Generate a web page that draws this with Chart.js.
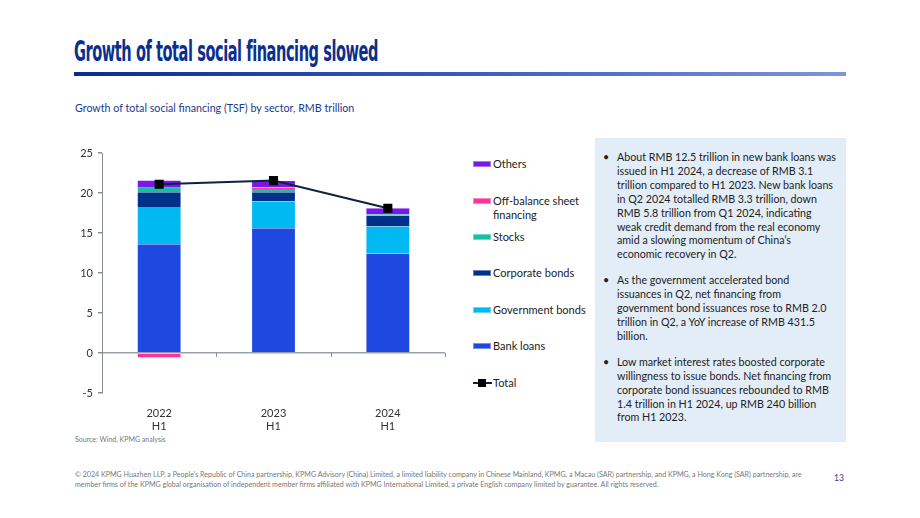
<!DOCTYPE html>
<html>
<head>
<meta charset="utf-8">
<script src="https://cdn.jsdelivr.net/npm/chart.js@4.4.1/dist/chart.umd.min.js"></script>
<style>
  html, body { margin:0; padding:0; background:#fff; }
  body { width:920px; height:518px; position:relative; overflow:hidden; font-family:Lato, "Noto Sans", sans-serif; }
  #title { position:absolute; left:74px; top:34px; font-family:"DejaVu Sans Condensed","DejaVu Sans",sans-serif; font-weight:bold; font-size:29px; color:#0B2F8E; white-space:nowrap; transform-origin:0 0; letter-spacing:-0.8px; }
  #rule { position:absolute; left:74px; top:72px; width:772px; height:4px; background:linear-gradient(to right,#0A2C8C,#3A5BB8 50%,#7E95DC); }
  #subtitle { position:absolute; left:75px; top:101px; font-size:10.7px; color:#1A3A8E; white-space:nowrap; }
  #wrap { position:absolute; left:60px; top:140px; width:400px; height:295px; }
  #legend { position:absolute; left:0; top:0; width:920px; height:1px; }
  .lg { position:absolute; left:473px; font-size:11px; color:#222; line-height:14px; white-space:pre; }
  .sw { position:absolute; left:0; top:4px; width:18px; height:6px; box-sizing:border-box; }
  .lg span.t { display:block; margin-left:20px; }
  #box { position:absolute; left:595px; top:138px; width:251px; height:304px; background:#E3EDF8; }
  #box ul { margin:0; padding:0; list-style:none; position:absolute; left:8px; top:12px; width:240px; }
  #box li { position:relative; padding-left:14px; font-size:10.7px; line-height:13.9px; color:#222; margin-bottom:12px; white-space:nowrap; }
  #box li:before { content:"•"; position:absolute; left:0; top:0; }
  #source { position:absolute; left:75px; top:435px; font-size:7px; color:#777; }
  #footer { position:absolute; left:75px; top:470px; width:760px; font-size:7.1px; line-height:9.5px; color:#777; white-space:nowrap; }
  #page { position:absolute; left:834px; top:473px; font-size:8.5px; color:#1A3A8E; }
</style>
</head>
<body>
<div id="title">Growth of total social financing slowed</div>
<div id="rule"></div>
<div id="subtitle">Growth of total social financing (TSF) by sector, RMB trillion</div>
<div id="wrap"><canvas id="c"></canvas></div>
<div id="legend"></div>
<div id="box"><ul>
<li>About RMB 12.5 trillion in new bank loans was<br>issued in H1 2024, a decrease of RMB 3.1<br>trillion compared to H1 2023. New bank loans<br>in Q2 2024 totalled RMB 3.3 trillion, down<br>RMB 5.8 trillion from Q1 2024, indicating<br>weak credit demand from the real economy<br>amid a slowing momentum of China’s<br>economic recovery in Q2.</li>
<li>As the government accelerated bond<br>issuances in Q2, net financing from<br>government bond issuances rose to RMB 2.0<br>trillion in Q2, a YoY increase of RMB 431.5<br>billion.</li>
<li>Low market interest rates boosted corporate<br>willingness to issue bonds. Net financing from<br>corporate bond issuances rebounded to RMB<br>1.4 trillion in H1 2024, up RMB 240 billion<br>from H1 2023.</li>
</ul></div>
<div id="source">Source: Wind, KPMG analysis</div>
<div id="footer">© 2024 KPMG Huazhen LLP, a People's Republic of China partnership, KPMG Advisory (China) Limited, a limited liability company in Chinese Mainland, KPMG, a Macau (SAR) partnership, and KPMG, a Hong Kong (SAR) partnership, are<br>member firms of the KPMG global organisation of independent member firms affiliated with KPMG International Limited, a private English company limited by guarantee. All rights reserved.</div>
<div id="page">13</div>
<script>
// ---- data ----
const categories = [["2022","H1"],["2023","H1"],["2024","H1"]];
const bankLoans      = [13.6, 15.6, 12.45];
const governmentBonds= [4.65, 3.35, 3.35];
const corporateBonds = [1.85, 1.15, 1.4];
const stocks         = [0.55, 0.4, 0.15];
const offBalance     = [-0.55, 0.2, 0.0];
const others         = [0.9, 0.8, 0.75];
const total          = [21.1, 21.55, 18.1];
const yTicks = [-5, 0, 5, 10, 15, 20, 25];

const seriesNames = ["Bank loans","Government bonds","Corporate bonds","Stocks","Off-balance sheet\nfinancing","Others"];
const seriesData  = [bankLoans, governmentBonds, corporateBonds, stocks, offBalance, others];
const seriesColors= ["#1F48E0","#00B9F2","#003189","#14BFA6","#FF3399","#7A18E8"];
const totalName = "Total";
const lineColor = "#0E2340";

// fit title
(function(){
  const t = document.getElementById('title');
  const w = t.getBoundingClientRect().width;
  t.style.transform = 'scaleX(' + (304 / w) + ')';
})();

const datasets = seriesData.map((d,i)=>({
  type:'bar', label:seriesNames[i], data:d, backgroundColor:seriesColors[i],
  borderColor:'rgba(255,255,255,0.35)', borderWidth:{left:1,right:1,top:0,bottom:0}, borderSkipped:false,
  stack:'sectors', order:1, barPercentage:0.8, categoryPercentage:0.49
}));
datasets.push({
  type:'line', label:totalName, data:total, borderColor:lineColor, borderWidth:2,
  pointStyle:'rect', pointRadius:5, pointBackgroundColor:'#000', pointBorderColor:'#000',
  stack:'total', order:0, tension:0
});

const zeroTicks = {
  id:'zeroTicks',
  afterDatasetsDraw(chart){
    const x = chart.scales.x, y = chart.scales.y, ctx = chart.ctx;
    const y0 = y.getPixelForValue(0);
    const n = chart.data.labels.length;
    ctx.save();
    ctx.strokeStyle = '#8a8f96'; ctx.lineWidth = 1;
    for (let i=0;i<=n;i++){
      const px = Math.round(x.getPixelForValue(i-0.5)) + 0.5;
      ctx.beginPath(); ctx.moveTo(px, y0); ctx.lineTo(px, y0+4); ctx.stroke();
    }
    ctx.restore();
  }
};

new Chart(document.getElementById('c'), {
  data:{ labels:categories, datasets },
  options:{
    responsive:true, maintainAspectRatio:false, animation:false,
    layout:{ padding:{ top:13, right:15, left:0, bottom:0 } },
    plugins:{ legend:{display:false}, tooltip:{enabled:false} },
    scales:{
      x:{ stacked:true, grid:{display:false}, border:{display:false},
          ticks:{ color:'#333', font:{family:'Lato', size:11}, padding:6, maxRotation:0 },
          afterFit(s){ s.height = 42; } },
      y:{ stacked:true, min:-5, max:25,
          afterBuildTicks(s){ s.ticks = yTicks.map(v=>({value:v})); },
          afterFit(s){ s.width = 42; },
          border:{ display:true, color:'#8a8f96', width:1 },
          grid:{ color:(c)=> c.tick && c.tick.value===0 ? '#9ba1a8' : 'rgba(0,0,0,0)', lineWidth:1.5,
                 tickColor:'#8a8f96', tickLength:4, drawTicks:true },
          ticks:{ color:'#333', font:{family:'Lato', size:11}, padding:5 } }
    }
  },
  plugins:[zeroTicks]
});

// HTML legend built from the series arrays (top item first)
const legendTops = [157, 194, 230, 266, 303, 339];
const lg = document.getElementById('legend');
const order = [5,4,3,2,1,0];
order.forEach((si,k)=>{
  const d = document.createElement('div');
  d.className='lg'; d.style.top = legendTops[k]+'px';
  d.innerHTML = '<div class="sw" style="background:'+seriesColors[si]+';border:1px solid rgba(255,255,255,0.4)"></div><span class="t"></span>';
  d.querySelector('.t').textContent = seriesNames[si];
  lg.appendChild(d);
});
const tl = document.createElement('div');
tl.className='lg'; tl.style.top='376px';
tl.innerHTML = '<div style="position:absolute;left:0;top:6px;width:19px;height:2px;background:'+lineColor+'"></div><div style="position:absolute;left:5px;top:3px;width:8px;height:8px;background:#000"></div><span class="t"></span>';
tl.querySelector('.t').textContent = totalName;
lg.appendChild(tl);
</script>
</body>
</html>
